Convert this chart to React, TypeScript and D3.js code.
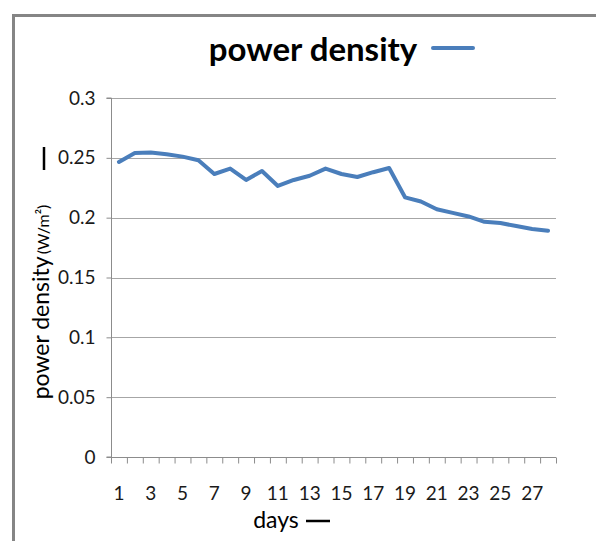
import React, { useEffect, useRef } from 'react';
import * as d3 from 'd3';

// days 1..28
const days = d3.range(1, 29);
const powerDensity = [
  0.2465, 0.254, 0.2545, 0.253, 0.251, 0.248, 0.2365, 0.241, 0.2315, 0.239,
  0.2265, 0.2315, 0.235, 0.241, 0.2365, 0.234, 0.238, 0.2415, 0.217, 0.2135,
  0.207, 0.204, 0.201, 0.1965, 0.1955, 0.193, 0.1905, 0.189,
];
const yTicks = [0, 0.05, 0.1, 0.15, 0.2, 0.25, 0.3];
const xTickLabels = days.filter((d) => d % 2 === 1);

const FONT = 'Lato, "Open Sans", sans-serif';

function App() {
  const svgRef = useRef<SVGSVGElement>(null);

  useEffect(() => {
    const svg = d3.select(svgRef.current);
    svg.selectAll('*').remove();

    const W = 596;
    const H = 541;
    const left = 111, right = 556, top = 98, bottom = 457;

    // frame
    svg.append('path')
      .attr('d', `M13.5,${H} L13.5,15.5 L${W},15.5`)
      .attr('fill', 'none')
      .attr('stroke', '#858585')
      .attr('stroke-width', 3);

    const x = d3.scaleBand<number>().domain(days).range([left, right]);
    const y = d3.scaleLinear().domain([0, 0.3]).range([bottom, top]);

    // gridlines
    svg.append('g')
      .selectAll('line')
      .data(yTicks.filter((t) => t > 0))
      .enter().append('line')
      .attr('x1', left)
      .attr('x2', right)
      .attr('y1', (d) => Math.round(y(d)) + 0.5)
      .attr('y2', (d) => Math.round(y(d)) + 0.5)
      .attr('stroke', '#a6a6a6')
      .attr('stroke-width', 1.2);

    // y axis
    const yAxis = svg.append('g')
      .attr('transform', `translate(${left + 0.5},0)`)
      .call(d3.axisLeft(y).tickValues(yTicks).tickSize(5).tickPadding(11)
        .tickFormat((d) => String(+d)));
    yAxis.select('.domain').attr('stroke', '#8c8c8c').attr('d', `M-5,${y(0.3)}H0V${y(0)}H-5`);
    yAxis.selectAll('.tick line').attr('stroke', '#8c8c8c');
    yAxis.selectAll('.tick text')
      .attr('font-family', FONT)
      .attr('font-size', 19)
      .attr('fill', '#1a1a1a');

    // x axis: ticks between categories
    const xg = svg.append('g').attr('transform', `translate(0,${bottom + 0.5})`);
    xg.append('line')
      .attr('x1', left).attr('x2', right)
      .attr('stroke', '#8c8c8c');
    xg.selectAll('.tk')
      .data(days.concat([29]))
      .enter().append('line')
      .attr('class', 'tk')
      .attr('x1', (d) => (d <= 28 ? x(d)! : right) + 0.5)
      .attr('x2', (d) => (d <= 28 ? x(d)! : right) + 0.5)
      .attr('y1', 0)
      .attr('y2', 6)
      .attr('stroke', '#8c8c8c');
    xg.selectAll('.lbl')
      .data(xTickLabels)
      .enter().append('text')
      .attr('class', 'lbl')
      .attr('x', (d) => x(d)! + x.bandwidth() / 2)
      .attr('y', 42)
      .attr('text-anchor', 'middle')
      .attr('font-family', FONT)
      .attr('font-size', 19)
      .attr('fill', '#1a1a1a')
      .text((d) => d);

    // line
    const line = d3.line<number>()
      .x((_, i) => x(days[i])! + x.bandwidth() / 2)
      .y((d) => y(d));
    svg.append('path')
      .datum(powerDensity)
      .attr('d', line)
      .attr('fill', 'none')
      .attr('stroke', '#4a7ebb')
      .attr('stroke-width', 4)
      .attr('stroke-linejoin', 'round')
      .attr('stroke-linecap', 'round');

    // title + legend key
    svg.append('text')
      .attr('x', 313)
      .attr('y', 61)
      .attr('text-anchor', 'middle')
      .attr('font-family', FONT)
      .attr('font-weight', 'bold')
      .attr('font-size', 33)
      .attr('fill', '#000')
      .text('power density');
    svg.append('line')
      .attr('x1', 433).attr('x2', 473)
      .attr('y1', 48).attr('y2', 48)
      .attr('stroke', '#4a7ebb')
      .attr('stroke-width', 4)
      .attr('stroke-linecap', 'round');

    // y axis title
    const yt = svg.append('text')
      .attr('transform', 'translate(49,302) rotate(-90)')
      .attr('text-anchor', 'middle')
      .attr('font-family', FONT)
      .attr('fill', '#000');
    yt.append('tspan').attr('font-size', 23).text('power density');
    yt.append('tspan').attr('font-size', 16).attr('dx', 2).text('(W/m²)');
    svg.append('line')
      .attr('x1', 44).attr('x2', 44)
      .attr('y1', 147).attr('y2', 170)
      .attr('stroke', '#000')
      .attr('stroke-width', 2.5);

    // x axis title
    svg.append('text')
      .attr('x', 276)
      .attr('y', 528)
      .attr('text-anchor', 'middle')
      .attr('font-family', FONT)
      .attr('font-size', 23)
      .attr('fill', '#000')
      .text('days');
    svg.append('line')
      .attr('x1', 306).attr('x2', 330)
      .attr('y1', 521).attr('y2', 521)
      .attr('stroke', '#000')
      .attr('stroke-width', 2.5);
  }, []);

  return (
    <svg
      ref={svgRef}
      width={596}
      height={541}
      style={{ position: 'absolute', left: 0, top: 0, background: '#fff' }}
    ></svg>
  );
}

export default App;
